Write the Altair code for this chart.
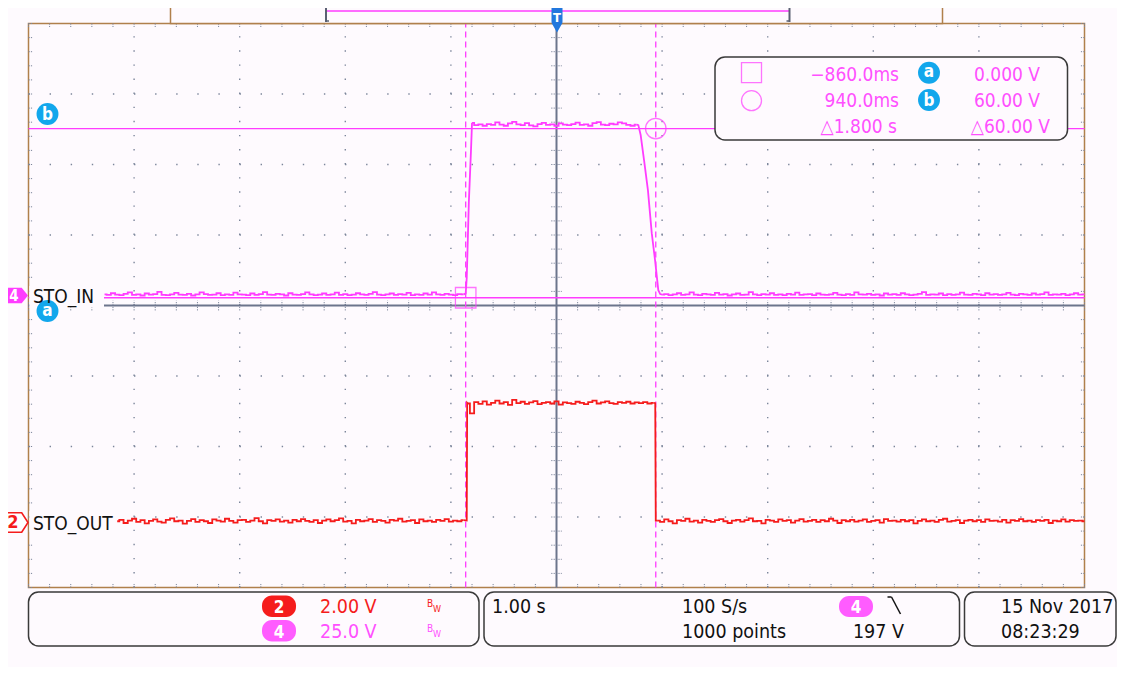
import altair as alt
import numpy as np
import pandas as pd

# ---------------- scope settings ----------------
CH4_V_PER_DIV = 25.0
CH2_V_PER_DIV = 2.0
CH4_POS_DIV = 0.11      # ground marker of channel 4 (divisions above centre)
CH2_POS_DIV = -3.07     # ground marker of channel 2
SAMPLE_STEP = 0.04      # s between the values typed below

# ---------------- channel 4 : STO_IN (volts) ----------------
ch4_pre_start = -4.28
ch4_pre = [1.2, 1.0, 1.6, 1.1, 0.9, 1.4, 1.9, 1.0, 1.2, 0.8, 1.5, 1.1, 1.3, 2.1, 1.0, 0.9, 1.2, 1.7, 1.1, 1.0,
           1.4, 0.8, 1.2, 1.9, 1.3, 1.0, 1.1, 1.6, 0.9, 1.2, 1.0, 1.8, 1.2, 1.1, 0.9, 1.5, 1.0, 1.3, 2.0, 1.1,
           1.0, 1.4, 1.2, 0.8, 1.6, 1.1, 1.0, 1.3, 1.9, 1.2, 0.9, 1.1, 1.5, 1.0, 1.2, 1.8, 1.0, 1.3, 0.9, 1.1,
           1.6, 1.2, 1.0, 1.4, 2.0, 1.1, 0.9, 1.2, 1.5, 1.0, 1.3, 1.1, 1.7, 0.9, 1.2, 1.0, 1.5, 1.1, 1.9, 1.2,
           1.0, 1.4, 1.1, 0.9, 1.3, 1.2]
ch4_up_t = [-0.86, -0.85, -0.83, -0.81]
ch4_up_v = [1.5, 7.0, 34.0, 52.0]
ch4_high_start = -0.80
ch4_high = [62.0, 61.2, 61.5, 61.0, 61.6, 61.3, 62.2, 61.4, 61.0, 61.8, 62.4, 61.5, 61.2, 61.9, 61.1, 60.8, 61.6, 62.0, 61.3, 61.5,
            61.0, 61.8, 61.4, 61.2, 61.6, 62.1, 61.3, 61.5, 61.0, 61.9, 62.3, 61.4, 61.2, 61.7, 61.5, 62.2, 61.8, 61.3, 61.0, 61.4]
ch4_down_t = [0.775, 0.797, 0.829, 0.866, 0.902, 0.933, 0.964, 0.982]
ch4_down_v = [61.2, 57.7, 48.8, 38.1, 22.9, 13.4, 2.7, 1.3]
ch4_post_start = 1.00
ch4_post = [1.1, 1.3, 0.9, 1.2, 1.6, 1.0, 1.2, 1.9, 1.1, 0.9, 1.4, 1.2, 1.0, 1.7, 1.1, 1.3, 0.8, 1.2, 1.5, 1.0,
            1.1, 2.0, 1.2, 0.9, 1.3, 1.1, 1.6, 1.0, 1.2, 0.9, 1.4, 1.1, 1.8, 1.0, 1.2, 1.3, 0.9, 1.5, 1.1, 1.0,
            1.2, 1.7, 1.1, 0.9, 1.3, 1.0, 1.9, 1.2, 1.1, 1.4, 1.0, 1.2, 0.8, 1.5, 1.1, 1.3, 1.0, 1.6, 1.2, 0.9,
            1.1, 1.4, 2.0, 1.0, 1.2, 1.1, 1.5, 0.9, 1.3, 1.0, 1.2, 1.8, 1.1, 1.0, 1.4, 1.2, 0.9, 1.6, 1.1, 1.3,
            1.0, 1.2, 1.7, 1.1, 0.9, 1.4, 1.2, 1.0, 1.5, 1.1, 1.3, 1.9, 1.0, 1.2, 1.1, 1.4, 0.9, 1.2, 1.6, 1.1, 1.2]

# ---------------- channel 2 : STO_OUT (volts) ----------------
ch2_pre_start = -4.16
ch2_pre = [0.02, 0.06, -0.03, 0.04, 0.09, 0.00, 0.05, -0.04, 0.03, 0.07, 0.01, -0.02, 0.06, 0.10, 0.02, 0.04, -0.05, 0.03, 0.08, 0.00,
           0.05, 0.02, -0.03, 0.07, 0.04, 0.01, 0.09, 0.03, -0.02, 0.05, 0.06, 0.00, 0.04, 0.11, 0.02, -0.04, 0.05, 0.03, 0.07, 0.01,
           0.04, -0.02, 0.06, 0.02, 0.08, 0.03, 0.00, 0.05, -0.03, 0.04, 0.07, 0.02, 0.05, 0.10, 0.01, 0.03, -0.04, 0.06, 0.02, 0.04,
           0.08, 0.00, 0.05, 0.03, -0.02, 0.06, 0.04, 0.09, 0.01, 0.03, 0.05, -0.03, 0.07, 0.02, 0.04, 0.00, 0.06, 0.03, 0.08, 0.01,
           0.04, 0.02, 0.05]
ch2_up_t = [-0.85, -0.846]
ch2_up_v = [0.04, 3.38]
ch2_high_start = -0.84
ch2_high = [3.36, 3.08, 3.40, 3.35, 3.42, 3.33, 3.38, 3.44, 3.36, 3.40, 3.32, 3.46, 3.37, 3.41, 3.35, 3.39, 3.43, 3.34, 3.38, 3.40,
            3.36, 3.42, 3.33, 3.39, 3.37, 3.35, 3.41, 3.38, 3.34, 3.40, 3.44, 3.36, 3.39, 3.42, 3.37, 3.35, 3.40, 3.38, 3.41, 3.36,
            3.39, 3.37, 3.40, 3.36, 3.38]
ch2_down_t = [0.935, 0.94]
ch2_down_v = [3.37, 0.04]
ch2_post_start = 0.96
ch2_post = [0.04, 0.00, 0.07, 0.02, -0.04, 0.05, 0.03, 0.09, 0.01, 0.04, -0.02, 0.06, 0.03, 0.00, 0.05, 0.08, 0.02, -0.03, 0.04, 0.06,
            0.01, 0.05, 0.10, 0.02, 0.03, -0.04, 0.06, 0.04, 0.00, 0.07, 0.03, 0.05, -0.02, 0.04, 0.08, 0.01, 0.03, 0.06, 0.00, 0.05,
            0.02, 0.09, 0.04, -0.03, 0.05, 0.02, 0.06, 0.01, 0.04, 0.07, 0.00, 0.03, 0.05, -0.02, 0.08, 0.03, 0.04, 0.01, 0.06, 0.02,
            0.05, -0.04, 0.03, 0.07, 0.02, 0.04, 0.00, 0.06, 0.09, 0.01, 0.03, 0.05, -0.03, 0.04, 0.06, 0.02, 0.05, 0.00, 0.07, 0.03,
            0.04, 0.01, 0.06, -0.02, 0.05, 0.03, 0.08, 0.02, 0.04, 0.00, 0.05, 0.03, 0.06, -0.03, 0.04, 0.02, 0.07, 0.01, 0.05, 0.03,
            0.04, 0.02]

# cursors (time and channel-4 voltage)
cursor_time = [-0.86, 0.94]
cursor_volt = [0.0, 60.0]

# ---------------- styles ----------------
BG = "#fefafe"
MAG = "#ff3cff"
MAG_TXT = "#ff50ff"
MAG_PILL = "#ff5cff"
RED = "#f51c1c"
CYAN = "#12a7ec"
BLUE = "#2277dd"
GRID = "#7c869b"
AXIS = "#6c758c"
BROWN = "#b0804c"
DARK = "#3a3a3a"
BLACK = "#111111"
FONT = "DejaVu Sans Condensed, DejaVu Sans, sans-serif"

W, H = 1056, 564
X0, Y0 = 28.5, 23.5   # page position of the plot area


def seg(start, vals):
    return [start + SAMPLE_STEP * k for k in range(len(vals))], list(vals)


def build_trace(pre, up, high, down, post, pos, vdiv):
    """noise stretches are drawn as held samples, edges as straight segments"""
    noise = [pre, high, post]
    rows = []
    for n, (ts, vs) in enumerate(noise):
        for t, v in zip(ts, vs):
            rows.append({"t": t, "v": v, "g": "n%d" % n, "kind": "noise"})
    edges = [
        ([pre[0][-1]] + list(up[0]) + [high[0][0]], [pre[1][-1]] + list(up[1]) + [high[1][0]]),
        ([high[0][-1]] + list(down[0]) + [post[0][0]], [high[1][-1]] + list(down[1]) + [post[1][0]]),
    ]
    for n, (ts, vs) in enumerate(edges):
        for t, v in zip(ts, vs):
            rows.append({"t": t, "v": v, "g": "e%d" % n, "kind": "edge"})
    df = pd.DataFrame(rows)
    df["d"] = pos + df["v"] / vdiv
    df["i"] = range(len(df))
    return df


df4 = build_trace(seg(ch4_pre_start, ch4_pre), (ch4_up_t, ch4_up_v), seg(ch4_high_start, ch4_high),
                  (ch4_down_t, ch4_down_v), seg(ch4_post_start, ch4_post), CH4_POS_DIV, CH4_V_PER_DIV)
df2 = build_trace(seg(ch2_pre_start, ch2_pre), (ch2_up_t, ch2_up_v), seg(ch2_high_start, ch2_high),
                  (ch2_down_t, ch2_down_v), seg(ch2_post_start, ch2_post), CH2_POS_DIV, CH2_V_PER_DIV)

XS = alt.Scale(domain=[-5, 5], nice=False, zero=False)
YS = alt.Scale(domain=[-4, 4], nice=False, zero=False)


def rules(df, **mk):
    return alt.Chart(df).mark_rule(**mk).encode(
        x=alt.X("t:Q", scale=XS, axis=None), x2="t2:Q",
        y=alt.Y("d:Q", scale=YS, axis=None), y2="d2:Q")


def trace(df, color):
    base = alt.Chart(df).encode(
        x=alt.X("t:Q", scale=XS, axis=None), y=alt.Y("d:Q", scale=YS, axis=None),
        detail="g:N", order="i:Q")
    noise = base.transform_filter(alt.datum.kind == "noise").mark_line(
        color=color, strokeWidth=1.8, interpolate="step")
    edge = base.transform_filter(alt.datum.kind == "edge").mark_line(
        color=color, strokeWidth=1.8, interpolate="linear")
    return [noise, edge]


# graticule
majors_x = [-4, -3, -2, -1, 1, 2, 3, 4]
majors_y = [-3, -2, -1, 1, 2, 3]
minor_x = [round(-5 + 0.2 * k, 2) for k in range(51)]
minor_y = [round(-4 + 0.2 * k, 2) for k in range(41)]

vgrid = pd.DataFrame({"t": majors_x, "t2": majors_x, "d": -4, "d2": 4})
hgrid = pd.DataFrame({"t": -5, "t2": 5, "d": majors_y, "d2": majors_y})
center = pd.DataFrame({"t": [0, -5], "t2": [0, 5], "d": [-4, 0], "d2": [4, 0]})
ticks = pd.concat([
    pd.DataFrame({"t": minor_x, "t2": minor_x, "d": -0.07, "d2": 0.07}),
    pd.DataFrame({"t": -0.05, "t2": 0.05, "d": minor_y, "d2": minor_y}),
    pd.DataFrame({"t": minor_x, "t2": minor_x, "d": 4, "d2": 3.95}),
    pd.DataFrame({"t": minor_x, "t2": minor_x, "d": -4, "d2": -3.95}),
    pd.DataFrame({"t": -5, "t2": -4.965, "d": minor_y, "d2": minor_y}),
    pd.DataFrame({"t": 5, "t2": 4.965, "d": minor_y, "d2": minor_y}),
])

cur_v = pd.DataFrame({"t": cursor_time, "t2": cursor_time, "d": -4, "d2": 4})
cur_d = [CH4_POS_DIV + v / CH4_V_PER_DIV for v in cursor_volt]
cur_h = pd.DataFrame({"t": -5, "t2": 5, "d": cur_d, "d2": cur_d})
cur_pts = pd.DataFrame({"t": cursor_time, "d": cur_d, "shape": ["square", "circle"]})

layers = [
    rules(vgrid, color=GRID, strokeWidth=1.4, strokeDash=[1.4, 12.7]),
    rules(hgrid, color=GRID, strokeWidth=1.4, strokeDash=[1.4, 19.7]),
    rules(ticks, color=GRID, strokeWidth=1.0, strokeDash=[1.2, 1.2]),
    rules(center, color=AXIS, strokeWidth=2),
    rules(cur_v, color=MAG, strokeWidth=1.3, strokeDash=[6, 4]),
    rules(cur_h, color=MAG, strokeWidth=1.3),
]
layers += trace(df2, RED)
layers += trace(df4, MAG)
layers.append(alt.Chart(cur_pts).mark_point(color=MAG, size=420, strokeWidth=1.3, filled=False).encode(
    x=alt.X("t:Q", scale=XS, axis=None), y=alt.Y("d:Q", scale=YS, axis=None),
    shape=alt.Shape("shape:N", scale=None)))

# ---------------- screen furniture (page pixel layout) ----------------
def P(x, y):
    return x - X0, y - Y0


def rect_rows(rows):
    out = []
    for x1, x2, y1, y2, c in rows:
        a, b = P(x1, y1)
        cc, d = P(x2, y2)
        out.append({"x": a, "x2": cc, "y": b, "y2": d, "c": c})
    return pd.DataFrame(out)


def px_rect(rows, **mk):
    return alt.Chart(rect_rows(rows)).mark_rect(**mk).encode(
        x=alt.X("x:Q", scale=None), x2="x2:Q", y=alt.Y("y:Q", scale=None), y2="y2:Q",
        color=alt.Color("c:N", scale=None))


def px_lines(rows, **mk):
    out = []
    for x1, y1, x2, y2, c, w in rows:
        a, b = P(x1, y1)
        cc, d = P(x2, y2)
        out.append({"x": a, "x2": cc, "y": b, "y2": d, "c": c, "w": w})
    return alt.Chart(pd.DataFrame(out)).mark_rule(**mk).encode(
        x=alt.X("x:Q", scale=None), x2="x2:Q", y=alt.Y("y:Q", scale=None), y2="y2:Q",
        color=alt.Color("c:N", scale=None), strokeWidth=alt.StrokeWidth("w:Q", scale=None))


def px_texts(rows, **mk):
    out = []
    for s, x, y, c, fs in rows:
        a, b = P(x, y)
        out.append({"s": s, "x": a, "y": b, "c": c, "fs": fs})
    return alt.Chart(pd.DataFrame(out)).mark_text(font=FONT, baseline="alphabetic", **mk).encode(
        x=alt.X("x:Q", scale=None), y=alt.Y("y:Q", scale=None), text="s:N",
        color=alt.Color("c:N", scale=None), size=alt.Size("fs:Q", scale=None))


def px_symbols(rows, **mk):
    out = []
    for x, y, c in rows:
        a, b = P(x, y)
        out.append({"x": a, "y": b, "c": c})
    return alt.Chart(pd.DataFrame(out)).mark_point(**mk).encode(
        x=alt.X("x:Q", scale=None), y=alt.Y("y:Q", scale=None), color=alt.Color("c:N", scale=None))


# label backgrounds hiding the left part of the screen
layers.append(px_rect([(29.3, 104, 286, 307.5, BG), (29.3, 116.5, 511, 532, BG)]))
# channel ground markers
layers.append(px_symbols([(14, 295.5, MAG)], shape="M-1,-0.55L0.55,-0.55L1,0L0.55,0.55L-1,0.55Z",
                         size=784, filled=True, opacity=1))
layers.append(px_symbols([(14, 522.5, RED)], shape="M-1,-0.7L0.55,-0.7L1,0L0.55,0.7L-1,0.7Z",
                         size=784, filled=False, strokeWidth=1.6, opacity=1, fill="#ffffff"))

# cursor readout box
layers.append(px_rect([(715, 1067.5, 57, 140, BG)], cornerRadius=10, stroke=DARK, strokeWidth=1.5))
layers.append(px_symbols([(751.5, 72.7, MAG)], shape="square", size=400, filled=False, strokeWidth=1.3))
layers.append(px_symbols([(751.5, 100.7, MAG)], shape="circle", size=400, filled=False, strokeWidth=1.3))

# top record bar
layers.append(px_rect([(170.5, 942.5, -5, 23.5, BG)], stroke=BROWN, strokeWidth=1.5))

# bottom status panels and channel pills
layers.append(px_rect([(28.5, 479, 592, 646, BG), (484, 959.5, 592, 646, BG), (964.5, 1116, 592, 646, BG)],
                      cornerRadius=10, stroke=DARK, strokeWidth=1.5))
layers.append(px_rect([(262, 296, 595.5, 617, RED), (262, 296, 620, 641.5, MAG_PILL), (839, 873, 596, 617, MAG_PILL)],
                      cornerRadius=10))

# strokes: record-bar brackets, falling-edge trigger icon
layers.append(px_lines([
    (326, 11, 789.5, 11, MAG, 1.5),
    (326, 3, 326, 22, "#5a6072", 2), (326, 4, 329, 4, "#5a6072", 1.5), (326, 21, 329, 21, "#5a6072", 1.5),
    (789.5, 3, 789.5, 22, "#5a6072", 2), (786.5, 4, 789.5, 4, "#5a6072", 1.5), (786.5, 21, 789.5, 21, "#5a6072", 1.5),
    (887.5, 597, 891.5, 597, BLACK, 1.5), (891.5, 597, 900.5, 614, BLACK, 1.5),
]))

# trigger marker
layers.append(px_rect([(551.5, 562.5, 2, 23.5, BLUE)], cornerRadius=2))
layers.append(px_symbols([(557, 27.5, BLUE)], shape="triangle-down", size=130, filled=True, opacity=1))

# cursor badges
layers.append(px_symbols([(47.5, 311, CYAN), (47.5, 114, CYAN), (929, 72.7, CYAN), (929, 100, CYAN)],
                         shape="circle", size=480, filled=True, opacity=1))

# texts
layers.append(px_texts([
    ("STO_IN", 33, 302.5, BLACK, 19), ("STO_OUT", 33, 529.5, BLACK, 19),
    ("2.00 V", 320, 613, RED, 19.5), ("25.0 V", 320, 638, MAG_TXT, 19.5),
    ("B", 427, 607, RED, 10), ("W", 433, 612, RED, 9),
    ("B", 427, 632, MAG_TXT, 10), ("W", 433, 637, MAG_TXT, 9),
    ("1.00 s", 492, 613, BLACK, 19.5), ("100 S/s", 682, 613, BLACK, 19.5),
    ("1000 points", 682, 638, BLACK, 19.5),
    ("15 Nov 2017", 1001, 613, BLACK, 19.5), ("08:23:29", 1001, 638, BLACK, 19.5),
], align="left"))
layers.append(px_texts([
    ("\u2212860.0ms", 899, 80.7, MAG_TXT, 19), ("0.000 V", 1040, 80.7, MAG_TXT, 19),
    ("940.0ms", 899, 107.3, MAG_TXT, 19), ("60.00 V", 1040, 107.3, MAG_TXT, 19),
    ("\u25b31.800 s", 897, 133.3, MAG_TXT, 19), ("\u25b360.00 V", 1050, 133.3, MAG_TXT, 19),
    ("197 V", 904, 638, BLACK, 19.5),
], align="right"))
layers.append(px_texts([
    ("4", 14, 300.7, "#ffffff", 15), ("2", 13, 528, RED, 18),
    ("a", 47.5, 315.5, "#ffffff", 17), ("b", 47.5, 120, "#ffffff", 17),
    ("a", 929, 77.2, "#ffffff", 17), ("b", 929, 106, "#ffffff", 17),
    ("2", 279, 613, "#ffffff", 17), ("4", 279, 638, "#ffffff", 17), ("4", 856, 613, "#ffffff", 17),
    ("T", 557, 21.5, "#ffffff", 13),
], align="center", fontWeight="bold"))

chart = alt.layer(*layers).properties(
    width=W, height=H,
    padding={"left": X0 - 8, "top": Y0 - 8, "right": 1109 - (X0 - 8) - W, "bottom": 659 - (Y0 - 8) - H},
    autosize=alt.AutoSizeParams(type="none"),
    background=BG,
).configure_view(stroke=BROWN, strokeWidth=1.5)

chart.save("out.html", embed_options={"renderer": "svg", "actions": False})
